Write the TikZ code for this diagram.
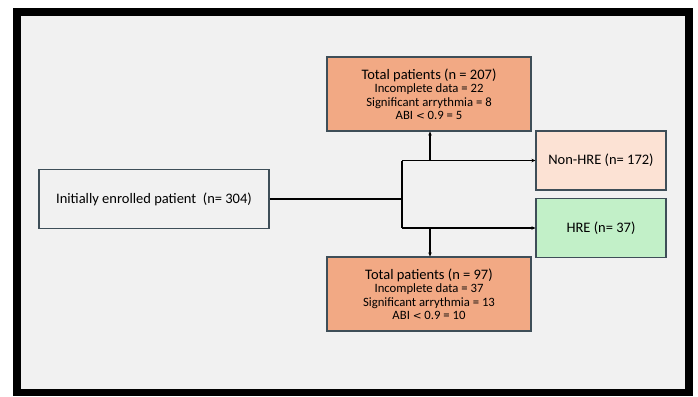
\documentclass[tikz,border=0pt]{standalone}
\usepackage{fontspec}
\setmainfont{Carlito}
\usetikzlibrary{arrows.meta}
\definecolor{bggray}{HTML}{F1F1F1}
\definecolor{boxedge}{HTML}{3E4E58}
\definecolor{salmon}{HTML}{F2A984}
\definecolor{peach}{HTML}{FCE2D4}
\definecolor{mint}{HTML}{C2F0C8}
\newcommand{\subl}[1]{{\fontsize{12.7}{13.5}\selectfont #1}}
\tikzset{
  box/.style={draw=boxedge, line width=1.1pt, inner sep=0pt, align=center, font=\fontsize{14.5}{13.5}\selectfont},
  conn/.style={line width=1.4pt, black},
  arr/.style={conn, -{Stealth[length=4pt,width=3.5pt]}},
}
\begin{document}
\begin{tikzpicture}[x=1pt,y=-1pt]
\useasboundingbox (0,0) rectangle (698,396);
\fill[white] (0,0) rectangle (698,396);
\fill[black] (12.5,8) rectangle (693,396);
\fill[bggray] (21,16) rectangle (685,389);
\node[box, fill=salmon, minimum width=204pt, minimum height=74pt] (top) at (429,94)
  {Total patients (n = 207)\\
   \subl{Incomplete data = 22}\\
   \subl{Significant arrythmia = 8}\\
   \subl{ABI {\fontspec{DejaVu Sans}\fontsize{10.5}{12}\selectfont <} 0.9 = 5}};
\node[box, fill=salmon, minimum width=204pt, minimum height=74pt] (bot) at (429,294)
  {Total patients (n = 97)\\
   \subl{Incomplete data = 37}\\
   \subl{Significant arrythmia = 13}\\
   \subl{ABI {\fontspec{DejaVu Sans}\fontsize{10.5}{12}\selectfont <} 0.9 = 10}};
\node[box, fill=bggray, minimum width=230pt, minimum height=59pt] (init) at (154,199)
  {Initially enrolled patient\ \ (n= 304)};
\node[box, fill=peach, minimum width=130pt, minimum height=59pt] (non) at (601,160.5)
  {Non-HRE (n= 172)};
\node[box, fill=mint, minimum width=130pt, minimum height=59pt] (hre) at (601,228)
  {HRE (n= 37)};
\coordinate (j) at (402,199);
\coordinate (ju) at (402,160.5);
\coordinate (jd) at (402,228);
\coordinate (bu) at (430,160.5);
\coordinate (bd) at (430,228);
\draw[conn, line width=1.8pt] (init.east) -- (j);
\draw[conn] (ju) -- (jd);
\draw[arr] (ju) -- (non.west);
\draw[arr] (jd) -- (hre.west);
\draw[arr] (bu) -- (top.south -| bu);
\draw[arr] (bd) -- (bot.north -| bd);
\end{tikzpicture}
\end{document}
